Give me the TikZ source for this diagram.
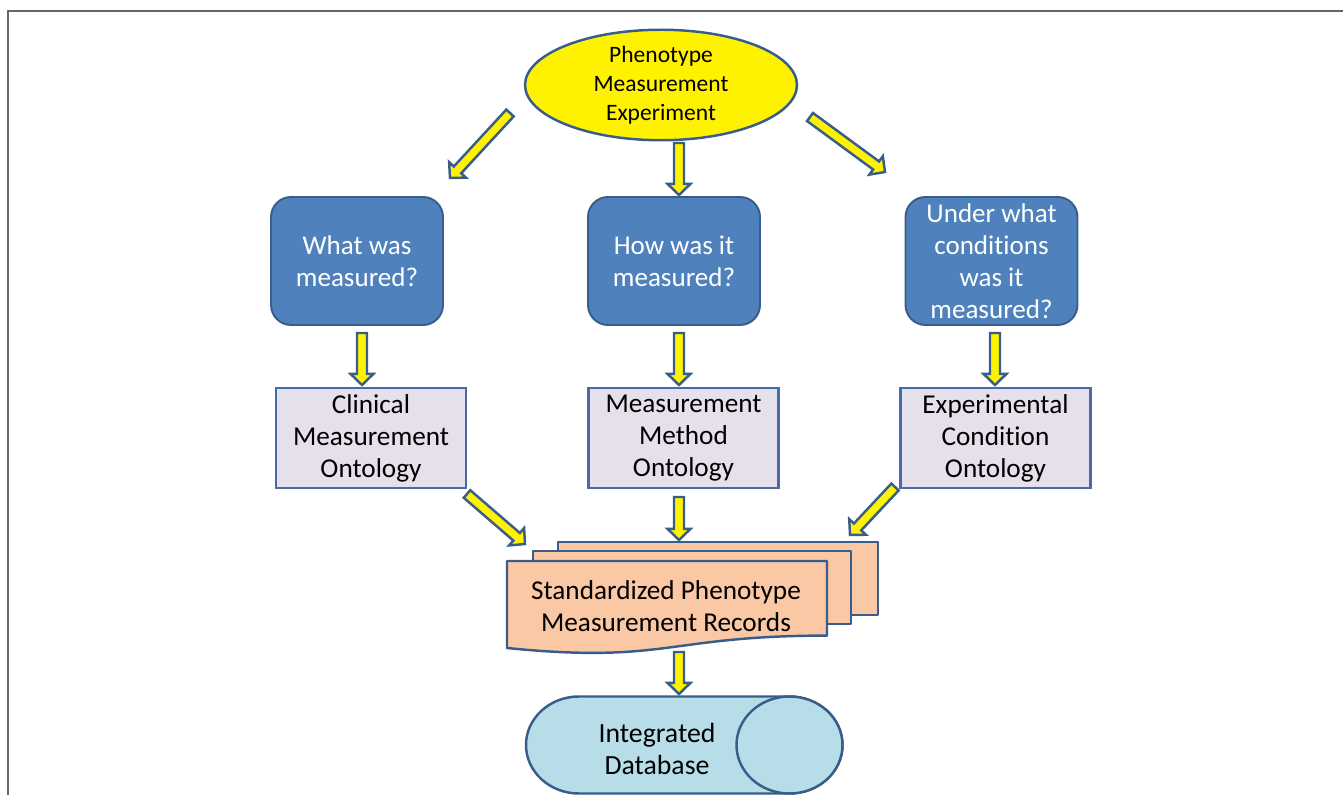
\documentclass[tikz,border=0pt]{standalone}
\usepackage{fontspec}
\setmainfont{Carlito}[Ligatures=NoCommon]
\usetikzlibrary{shapes, arrows, positioning, calc}
\definecolor{edgeblue}{RGB}{56,93,138}
\definecolor{qblue}{RGB}{79,129,189}
\definecolor{ontedge}{RGB}{70,108,165}
\definecolor{ontlilac}{RGB}{229,224,236}
\definecolor{recpeach}{RGB}{250,200,165}
\definecolor{dbcyan}{RGB}{183,222,232}
\newcommand{\flowarrow}[2]{%
  \coordinate (hb) at ($(#2)!6.3pt!(#1)$);
  \draw[flowarr] ($(#1)!2.85pt!90:(#2)$) -- ($(hb)!2.85pt!90:(#2)$)
    -- ($(hb)!6.5pt!90:(#2)$) -- (#2) -- ($(hb)!6.5pt!-90:(#2)$)
    -- ($(hb)!2.85pt!-90:(#2)$) -- ($(#1)!2.85pt!-90:(#2)$) -- cycle;}

\begin{document}
\begin{tikzpicture}[x=0.02cm, y=0.02cm,
    flowarr/.style={draw=edgeblue, fill=yellow, line width=1.4pt, line join=miter},
    question/.style={rectangle, rounded corners=0.4cm, draw=edgeblue, fill=qblue, line width=1.1pt, text=white, minimum width=3.44cm, minimum height=2.56cm, inner sep=0pt, align=center, font=\fontsize{15.4}{18.2}\selectfont},
    ontology/.style={rectangle, draw=ontedge, fill=ontlilac, line width=1.4pt, minimum width=3.8cm, minimum height=2cm, inner sep=0pt, align=center, font=\fontsize{15.5}{18.2}\selectfont},
    page/.style={draw=edgeblue, fill=recpeach, line width=1.4pt, line join=round},
    dbshape/.style={draw=edgeblue, fill=dbcyan, line width=1.4pt}]
    \useasboundingbox (0,0) rectangle (1343,795);
    \draw[gray!80!black, line width=1.2pt] (8,0) -- (8,784) -- (1343,784);

    \node[ellipse, draw=edgeblue, fill=yellow, line width=1.4pt, minimum width=5.44cm, minimum height=2cm, inner sep=0pt, align=center, font=\fontsize{13.4}{16.5}\selectfont] (pme) at (661,710) {Phenotype\\Measurement\\Experiment};

    \node[question] (what) at (357,534) {What was\\measured?};
    \node[question] (how) at (674,534) {How was it\\measured?};
    \node[question] (cond) at (991.5,534) {Under what\\conditions\\was it\\measured?};

    \node[ontology] (cmo) at (371,357) {Clinical\\Measurement\\Ontology};
    \node[ontology] (mmo) at (683.5,357) {Measurement\\Method\\Ontology};
    \node[ontology] (eco) at (995.5,357) {Experimental\\Condition\\Ontology};

    \draw[page] (558,253) rectangle (878,180);
    \draw[page] (533,244) rectangle (851,171);
    \draw[page] (507,234) -- (827,234) -- (827,159.4) .. controls (667,159.4) and (667,131) .. (507,147) -- cycle;
    \node[align=center, font=\fontsize{15.5}{18.2}\selectfont] (rec) at (666,189) {Standardized Phenotype\\Measurement Records};

    \draw[dbshape] (579,98.5) -- (789.5,98.5) arc[start angle=90, end angle=-90, x radius=53, y radius=48.5] -- (579,1.5) arc[start angle=270, end angle=90, x radius=53, y radius=48.5] -- cycle;
    \draw[dbshape] (789.5,50) ellipse [x radius=53, y radius=48.5];
    \node[align=center, font=\fontsize{15.8}{18.6}\selectfont] (db) at (657,46) {Integrated\\Database};

    \coordinate (t1) at (510,682); \coordinate (h1) at (450,617);
    \coordinate (t2) at (679,652); \coordinate (h2) at (679,600);
    \coordinate (t3) at (810,678); \coordinate (h3) at (885,623);
    \coordinate (t4) at (362,462); \coordinate (h4) at (362,410);
    \coordinate (t5) at (679,462); \coordinate (h5) at (679,410);
    \coordinate (t6) at (995,462); \coordinate (h6) at (995,410);
    \coordinate (t7) at (467,301); \coordinate (h7) at (525,251);
    \coordinate (t8) at (679,298); \coordinate (h8) at (679,255);
    \coordinate (t9) at (895,308); \coordinate (h9) at (850,260);
    \coordinate (t10) at (679,143); \coordinate (h10) at (679,101);
    \foreach \i in {1,...,10} {\flowarrow{t\i}{h\i}}
\end{tikzpicture}
\end{document}
